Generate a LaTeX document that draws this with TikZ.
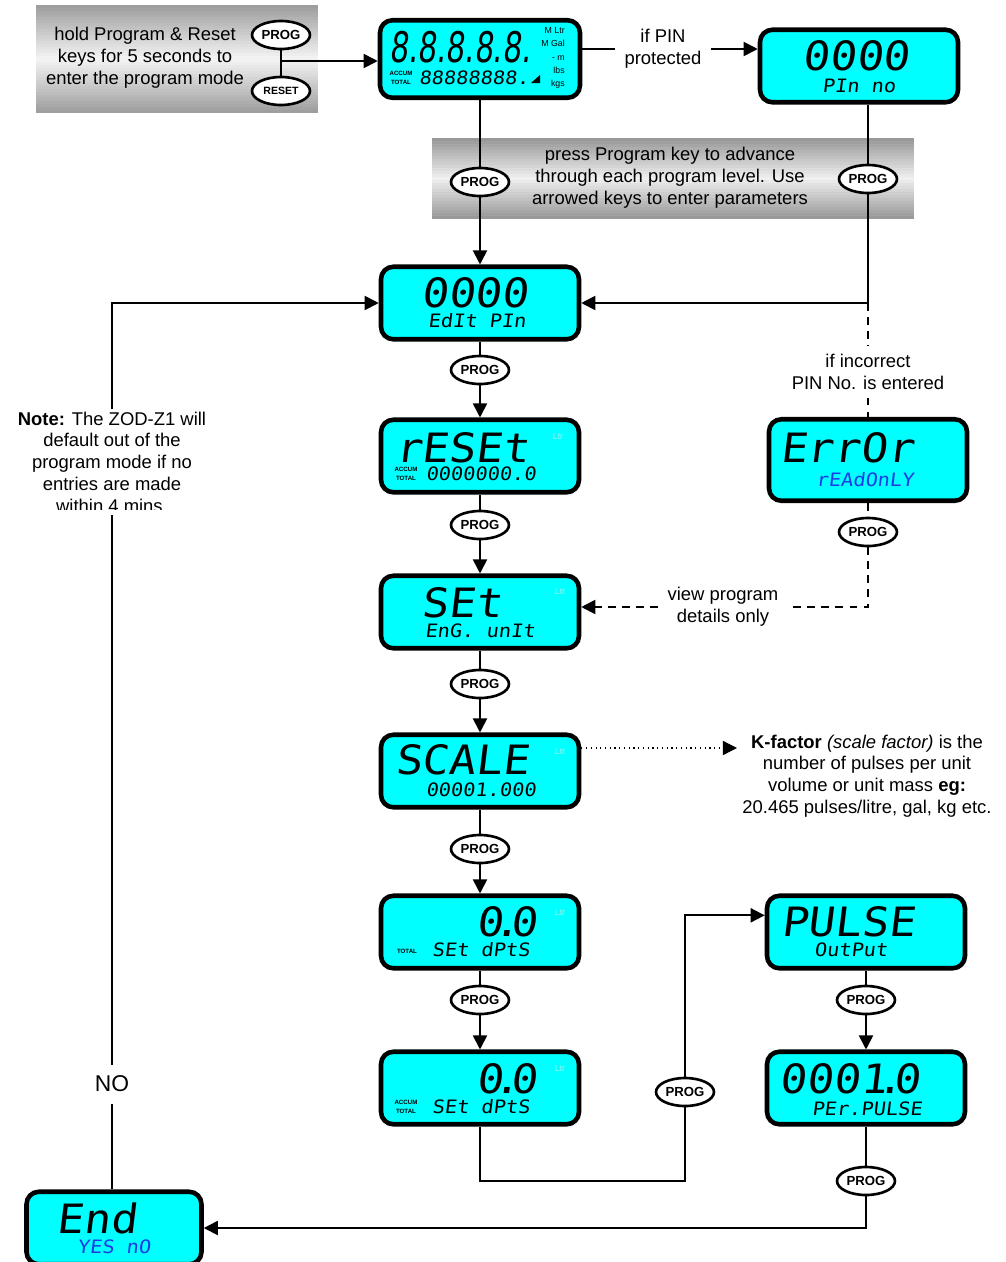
\documentclass[tikz,border=0pt]{standalone}
\usepackage{fontspec}
\setmainfont{Liberation Sans}
\newfontfamily\lcdfont[FakeSlant=0.12,FakeStretch=1.1]{DejaVu Sans Mono}
\newfontfamily\lcdprop[FakeSlant=0.12,FakeStretch=0.7]{DejaVu Sans}
\usetikzlibrary{shapes.geometric,arrows.meta}
\definecolor{lcdcyan}{RGB}{0,255,255}
\definecolor{lcdblue}{RGB}{30,60,230}
\definecolor{ltrgrey}{RGB}{170,235,235}
\tikzset{
  lcd/.style={draw=black, line width=2.6pt, rounded corners=7pt, fill=lcdcyan,
    minimum width=3.96cm, minimum height=1.45cm, inner sep=0pt},
  lcdbig/.style={font=\lcdfont\fontsize{23}{23}\selectfont, inner sep=0pt},
  lcdsub/.style={font=\lcdfont\fontsize{10.5}{10.5}\selectfont, inner sep=0pt},
  lcdtiny/.style={font=\bfseries\fontsize{3.5}{5.2}\selectfont, align=center, inner sep=0pt},
  ltrmark/.style={font=\fontsize{5}{5}\selectfont, text=ltrgrey, inner sep=0pt},
  progkey/.style={ellipse, draw=black, line width=1.5pt, fill=white,
    minimum width=1.16cm, minimum height=0.56cm, inner sep=0pt,
    font=\bfseries\fontsize{7.5}{7.5}\selectfont},
  txt/.style={align=center, font=\fontsize{10.5}{12.4}\selectfont, inner sep=1pt},
  arr/.style={-{Triangle[length=8pt,width=8pt]}},
  dashline/.style={dash pattern=on 4.5pt off 3.5pt}
}
\begin{document}
\begin{tikzpicture}[x=0.02cm, y=-0.02cm, line width=1pt]
\useasboundingbox (0,0) rectangle (1006,1262);

% grey notes, shaded in strips
\foreach \i in {0,...,35}{
  \pgfmathsetmacro\g{4+34*abs(\i-17.5)/17.5}
  \fill[black!\g] (36,{5+3*\i}) rectangle (318,{8.4+3*\i});
}
\foreach \i in {0,...,26}{
  \pgfmathsetmacro\g{6+34*abs(\i-13)/13}
  \fill[black!\g] (432,{138+3*\i}) rectangle (914,{141.4+3*\i});
}
\node[txt] (hold) at (145,58) {hold Program \& Reset\\keys for 5 seconds to\\enter the program mode};
\node[txt] (adv) at (670,178) {press Program key to advance\\through each program level. Use\\arrowed keys to enter parameters};

% displays
\node[lcd, minimum width=4cm, minimum height=1.55cm] (lcdmain) at (480,59) {};
\node[lcdbig, font=\lcdprop\fontsize{24}{24}\selectfont] (m1) at (460,47) {8.8.8.8.8.};
\node[lcdtiny, align=right, font=\fontsize{5}{7.6}\selectfont] (m2) at (553,58) {M Ltr\\M Gal\\- m\\lbs\\kgs};
\node[lcdtiny] (m3) at (401,78) {ACCUM\\TOTAL};
\node[lcdsub] (m4) at (474,78) {88888888.};
\fill (531,83) -- (540,75) -- (540,83) -- cycle;

\node[lcd] (lcdpin) at (859,66) {};
\node[lcdbig] (p1) at (856,56) {0000};
\node[lcdsub] (p2) at (859,86) {PIn no};

\node[lcd] (lcdedit) at (480,303) {};
\node[lcdbig] (e1) at (475,293) {0000};
\node[lcdsub] (e2) at (477,321) {EdIt PIn};

\node[lcd] (lcdreset) at (480,456) {};
\node[lcdbig] (r1) at (462,448) {rESEt};
\node[lcdtiny] (r2) at (406,474) {ACCUM\\TOTAL};
\node[lcdsub] (r3) at (481,474) {0000000.0};
\node[ltrmark] (r4) at (558,437) {Ltr};

\node[lcd] (lcdset) at (480,612) {};
\node[lcdbig] (s1) at (462,603) {SEt};
\node[lcdsub] (s2) at (480,631) {EnG. unIt};
\node[ltrmark] (s3) at (560,592) {Ltr};

\node[lcd] (lcdscale) at (480,771) {};
\node[lcdbig] (c1) at (462,760) {SCALE};
\node[lcdsub] (c2) at (481,790) {00001.000};
\node[ltrmark] (c3) at (560,752) {Ltr};

\node[lcd] (lcddp1) at (480,932) {};
\node[lcdbig] (d1) at (507,922) {0\kern-.25em.\kern-.25em0};
\node[lcdtiny] (d2) at (407,951) {TOTAL};
\node[lcdsub] (d3) at (481,950) {SEt dPtS};
\node[ltrmark] (d4) at (560,912) {Ltr};

\node[lcd] (lcddp2) at (480,1088) {};
\node[lcdbig] (f1) at (507,1079) {0\kern-.25em.\kern-.25em0};
\node[lcdtiny] (f2) at (406,1107) {ACCUM\\TOTAL};
\node[lcdsub] (f3) at (481,1107) {SEt dPtS};
\node[ltrmark] (f4) at (560,1068) {Ltr};

\node[lcd] (lcdpulse) at (866,932) {};
\node[lcdbig] (u1) at (848,922) {PULSE};
\node[lcdsub] (u2) at (851,950) {OutPut};

\node[lcd] (lcdpp) at (866,1088) {};
\node[lcdbig] (q1) at (850,1079) {0001\kern-.25em.\kern-.25em0};
\node[lcdsub] (q2) at (867,1109) {PEr.PULSE};

\node[lcd, minimum height=1.63cm] (lcderr) at (868,460) {};
\node[lcdbig] (x1) at (847,448) {ErrOr};
\node[lcdsub, text=lcdblue] (x2) at (865,480) {rEAdOnLY};

\node[lcd, minimum width=3.5cm] (lcdend) at (114,1228) {};
\node[lcdbig] (n1) at (97,1218) {End};
\node[lcdsub, text=lcdblue] (n2) at (114,1247) {YES nO};

% keys
\node[progkey] (progA) at (281,35) {PROG};
\node[progkey, font=\bfseries\fontsize{6}{6}\selectfont] (resetA) at (281,91) {RESET};
\node[progkey] (progB) at (480,182) {PROG};
\node[progkey] (progC) at (868,179) {PROG};
\node[progkey] (progE) at (480,370) {PROG};
\node[progkey] (progF) at (480,525) {PROG};
\node[progkey] (progD) at (868,532) {PROG};
\node[progkey] (progG) at (480,684) {PROG};
\node[progkey] (progH) at (480,849) {PROG};
\node[progkey] (progI) at (480,1000) {PROG};
\node[progkey] (progJ) at (685,1092) {PROG};
\node[progkey] (progK) at (866,1000) {PROG};
\node[progkey] (progL) at (866,1181) {PROG};

% labels
\node[txt, inner sep=5pt] (pintxt) at (663,49) {if PIN\\protected};
\node[txt, inner sep=4pt] (errtxt) at (868,372) {if incorrect\\PIN No. is entered};
\node[txt, inner sep=5pt] (viewtxt) at (723,607) {view program\\details only};
\node[txt] (kfac) at (867,776) {\textbf{K-factor} \textit{(scale factor)} is the\\number of pulses per unit\\volume or unit mass \textbf{eg:}\\20.465 pulses/litre, gal, kg etc.};
\begin{scope}
  \clip (0,380) rectangle (230,509);
  \node[txt] (note) at (112,462) {\textbf{Note:} The ZOD-Z1 will\\default out of the\\program mode if no\\entries are made\\within 4 mins.};
\end{scope}
\node[txt, font=\fontsize{13}{13}\selectfont, inner sep=6pt] (no) at (112,1084) {NO};

% connectors
\coordinate (k1) at (281,61);
\draw (progA) -- (resetA);
\draw[arr] (k1) -- (k1 -| lcdmain.west);
\draw (pintxt.west -| lcdmain.east) -- (pintxt.west);
\draw[arr] (pintxt.east) -- (pintxt.east -| lcdpin.west);

\draw (lcdmain) -- (progB);
\draw[arr] (progB) -- (lcdedit);
\draw (progC |- lcdpin.south) -- (progC);
\draw[arr] (progC) |- (lcdedit.east);

\coordinate (c1) at (lcdedit.east -| progC);
\draw[dashline] (c1) -- (errtxt);
\draw[dashline] (errtxt) -- (errtxt |- lcderr.north);
\draw[dashline] (progD |- lcderr.south) -- (progD);
\draw[dashline] (progD) |- (viewtxt.east);
\draw[dashline, arr] (viewtxt.west) -- (viewtxt.west -| lcdset.east);

\draw (lcdedit) -- (progE);
\draw[arr] (progE) -- (lcdreset);
\draw (lcdreset) -- (progF);
\draw[arr] (progF) -- (lcdset);
\draw (lcdset) -- (progG);
\draw[arr] (progG) -- (lcdscale);
\draw (lcdscale) -- (progH);
\draw[arr] (progH) -- (lcddp1);
\draw (lcddp1) -- (progI);
\draw[arr] (progI) -- (lcddp2);

\coordinate (kf) at (737,748);
\draw[dotted, line width=0.7pt, arr] (kf -| lcdscale.east) -- (kf);

\coordinate (b1) at (480,1181);
\draw (lcddp2) -- (b1) -| (progJ);
\draw[arr] (progJ) |- ([yshift=9.5pt]lcdpulse.west);
\draw (lcdpulse) -- (progK);
\draw[arr] (progK) -- (lcdpp);
\draw (lcdpp) -- (progL);
\draw[arr] (progL) |- (lcdend.east);

\draw (no |- lcdend.north) -- (no);
\draw (no) -- (no |- note.south);
\draw[arr] (note.north -| no) |- (lcdedit.west);
\end{tikzpicture}
\end{document}
